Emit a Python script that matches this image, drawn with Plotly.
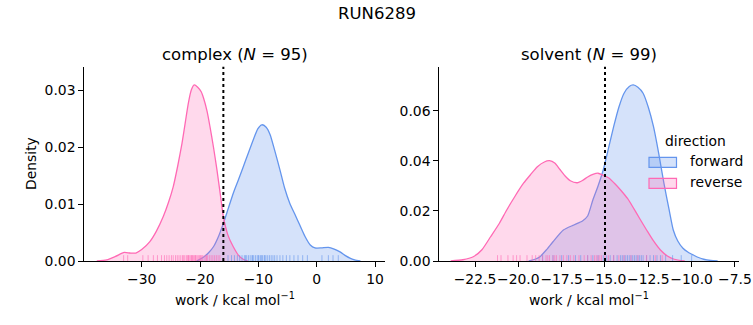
import plotly.graph_objects as go

# ---------------- data ----------------
SUPTITLE = "RUN6289"
PANELS = ["complex", "solvent"]
N_COUNTS = [95, 99]
DG_LINE = [-16.0, -15.0]
LEGEND_TITLE = "direction"
DIRECTIONS = ["forward", "reverse"]

# complex, reverse KDE
cx_rev_x = [-37.7, -36.0, -34.5, -33.0, -32.0, -31.0, -30.0, -28.6, -27.5, -26.3, -25.4, -24.6,
            -23.8, -23.1, -22.5, -22.0, -21.5, -21.0, -20.4, -19.8, -19.4, -18.8, -18.3, -17.7,
            -17.1, -16.5, -16.0, -15.2, -14.3, -13.4, -12.6, -11.8]
cx_rev_y = [0.0, 0.0002, 0.0008, 0.0015, 0.0014, 0.0014, 0.0020, 0.0034, 0.0052, 0.0078, 0.0103, 0.0130,
            0.0168, 0.0206, 0.0245, 0.0277, 0.0300, 0.0309, 0.0305, 0.0297, 0.0286, 0.0263, 0.0236, 0.0200,
            0.0160, 0.0115, 0.0078, 0.0045, 0.0025, 0.0010, 0.0003, 0.0]
# complex, forward KDE
cx_fwd_x = [-20.6, -19.5, -18.5, -17.7, -16.8, -16.0, -15.2, -14.3, -13.4, -12.6, -11.7, -10.9, -10.1,
            -9.4, -8.7, -8.0, -7.2, -6.3, -5.5, -4.6, -3.7, -2.9, -2.0, -1.1, -0.3, 0.8, 2.0, 3.0, 4.0,
            5.0, 5.7, 6.5, 7.5]
cx_fwd_y = [0.0, 0.0006, 0.0015, 0.0025, 0.0044, 0.0066, 0.0091, 0.0119, 0.0143, 0.0165, 0.0190, 0.0212,
            0.0232, 0.0239, 0.0235, 0.0222, 0.0194, 0.0160, 0.0128, 0.0101, 0.0081, 0.0063, 0.0043, 0.0028,
            0.0023, 0.0023, 0.0024, 0.0021, 0.0016, 0.0009, 0.0005, 0.0002, 0.0]
# solvent, reverse KDE
sv_rev_x = [-23.9, -23.2, -22.6, -22.1, -21.6, -21.1, -20.67, -20.2, -19.7, -19.3, -18.9, -18.5, -18.2,
            -17.9, -17.6, -17.3, -17.0, -16.6, -16.3, -16.0, -15.7, -15.4, -15.1, -14.8, -14.4, -14.1,
            -13.7, -13.4, -13.0, -12.6, -12.2, -11.8, -11.4, -11.0, -10.4]
sv_rev_y = [0.0, 0.0005, 0.0017, 0.0045, 0.0097, 0.0150, 0.0204, 0.0258, 0.0311, 0.0345, 0.0377, 0.0396,
            0.0401, 0.0392, 0.0366, 0.0340, 0.0321, 0.0313, 0.0322, 0.0336, 0.0346, 0.0351, 0.0343, 0.0333,
            0.0307, 0.0284, 0.0250, 0.0217, 0.0170, 0.0124, 0.0080, 0.0044, 0.0020, 0.0007, 0.0]
# solvent, forward KDE
sv_fwd_x = [-19.4, -19.0, -18.75, -18.4, -18.0, -17.4, -16.8, -16.3, -16.0, -15.7, -15.4, -15.1, -14.8,
            -14.5, -14.2, -13.9, -13.6, -13.37, -13.1, -12.8, -12.5, -12.2, -11.9, -11.6, -11.3, -11.06,
            -10.8, -10.5, -10.2, -9.9, -9.6, -9.3, -8.9, -8.5]
sv_fwd_y = [0.0, 0.0008, 0.0017, 0.0043, 0.0077, 0.0124, 0.0144, 0.0160, 0.0180, 0.0244, 0.0300, 0.0364,
            0.0450, 0.0537, 0.0615, 0.0671, 0.0698, 0.0704, 0.0695, 0.0671, 0.0615, 0.0537, 0.0430, 0.0311,
            0.0205, 0.0124, 0.0080, 0.0051, 0.0035, 0.0024, 0.0014, 0.0007, 0.0002, 0.0]

# rug samples (work values)
cx_rev_rug = [-33.1, -32.4, -29.8, -28.9, -28.0, -27.3, -26.6, -26.1, -25.7, -25.3, -24.9, -24.6, -24.2,
              -23.9, -23.6, -23.3, -23.0, -22.8, -22.6, -22.3, -22.1, -21.9, -21.7, -21.5, -21.3, -21.1,
              -20.9, -20.7, -20.5, -20.3, -20.1, -19.9, -19.6, -19.3, -19.0, -18.7, -18.4, -18.1, -17.8,
              -17.5, -17.2, -16.9, -16.6, -21.4, -20.8, -22.0, -19.8, -18.9]
cx_fwd_rug = [-15.2, -14.6, -14.1, -13.6, -13.2, -12.8, -12.4, -12.0, -11.7, -11.4, -11.1, -10.8, -10.5,
              -10.2, -9.9, -9.6, -9.3, -9.0, -8.7, -8.4, -8.1, -7.8, -7.5, -7.2, -6.8, -6.3, -5.8, -5.2,
              -4.6, -3.9, -3.2, -2.4, -1.6, 0.9, 2.0, 2.8, 3.7, -10.0, -9.5, -8.9, -11.0, -12.2]
sv_rev_rug = [-21.2, -21.0, -20.6, -20.3, -20.1, -19.9, -19.5, -19.2, -19.0, -18.8, -18.6, -18.4, -18.2,
              -18.0, -17.8, -17.6, -17.4, -17.2, -17.0, -16.8, -16.5, -16.2, -16.0, -15.8, -15.6, -15.4,
              -15.2, -15.0, -14.8, -14.5, -14.2, -13.9, -13.5, -13.1, -12.6, -12.1, -11.7, -18.3, -17.9,
              -15.5, -15.3]
sv_fwd_rug = [-18.6, -18.0, -17.5, -17.1, -16.7, -16.4, -16.0, -15.7, -15.4, -15.1, -14.9, -14.7, -14.5,
              -14.3, -14.1, -13.9, -13.8, -13.6, -13.5, -13.4, -13.3, -13.2, -13.1, -12.9, -12.8, -12.6,
              -12.4, -12.2, -12.0, -11.8, -11.5, -11.1, -10.6, -10.0, -13.7, -13.0, -14.0]

X_TICKS = [[-30, -20, -10, 0, 10], [-22.5, -20.0, -17.5, -15.0, -12.5, -10.0, -7.5]]
X_TICKTEXT = [["−30", "−20", "−10", "0", "10"],
              ["−22.5", "−20.0", "−17.5", "−15.0", "−12.5", "−10.0", "−7.5"]]
Y_TICKS = [[0.0, 0.01, 0.02, 0.03], [0.0, 0.02, 0.04, 0.06]]
Y_TICKTEXT = [["0.00", "0.01", "0.02", "0.03"], ["0.00", "0.02", "0.04", "0.06"]]
X_RANGES = [[-39.84, 11.71], [-24.56, -7.25]]
Y_RANGES = [[0, 0.03409], [0, 0.0777]]

# ---------------- styling ----------------
W, H = 753, 325
FONT = "DejaVu Sans"
BLUE = "#6495ED"
PINK = "#FF69B4"
BLUE_FILL = "rgba(100,149,237,0.27)"
PINK_FILL = "rgba(255,105,180,0.25)"
BLUE_RUG = "rgba(100,149,237,0.6)"
PINK_RUG = "rgba(255,105,180,0.6)"
LINE_COLORS = [BLUE, PINK]
FILL_COLORS = [BLUE_FILL, PINK_FILL]

X_DOMAINS = [[84.3 / W, 385 / W], [439.3 / W, 739.3 / W]]
Y_DOMAIN = [(H - 261) / H, (H - 66.7) / H]

fig = go.Figure()

curves = [
    (cx_fwd_x, cx_fwd_y, cx_rev_x, cx_rev_y, cx_fwd_rug, cx_rev_rug),
    (sv_fwd_x, sv_fwd_y, sv_rev_x, sv_rev_y, sv_fwd_rug, sv_rev_rug),
]

shapes = []
for i, (fx, fy, rx, ry, frug, rrug) in enumerate(curves):
    xa = "x" if i == 0 else "x2"
    ya = "y" if i == 0 else "y2"
    fig.add_trace(go.Scatter(x=fx, y=fy, mode="lines", line=dict(color=BLUE, width=1.3, shape="spline", smoothing=0.6),
                             fill="tozeroy", fillcolor=BLUE_FILL, name="forward",
                             showlegend=False, xaxis=xa, yaxis=ya, hoverinfo="skip"))
    fig.add_trace(go.Scatter(x=rx, y=ry, mode="lines", line=dict(color=PINK, width=1.3, shape="spline", smoothing=0.6),
                             fill="tozeroy", fillcolor=PINK_FILL, name="reverse",
                             showlegend=False, xaxis=xa, yaxis=ya, hoverinfo="skip"))
    for v in frug:
        shapes.append(dict(type="line", xref=xa, yref=f"{ya} domain", x0=v, x1=v, y0=0, y1=0.03,
                           line=dict(color=BLUE_RUG, width=1), layer="above"))
    for v in rrug:
        shapes.append(dict(type="line", xref=xa, yref=f"{ya} domain", x0=v, x1=v, y0=0, y1=0.03,
                           line=dict(color=PINK_RUG, width=1), layer="above"))
    shapes.append(dict(type="line", xref=xa, yref=f"{ya} domain", x0=DG_LINE[i], x1=DG_LINE[i], y0=0, y1=1,
                       line=dict(color="black", width=2, dash="dot"), layer="above"))

# manual legend (matplotlib-style patches)
annotations = [
    dict(text=LEGEND_TITLE, x=695 / W, y=(H - 141) / H, xref="paper", yref="paper", showarrow=False,
         font=dict(family=FONT, size=13.9), xanchor="center", yanchor="middle"),
]
for k, name in enumerate(DIRECTIONS):
    yc = 162.3 + k * 21
    shapes.append(dict(type="rect", xref="paper", yref="paper",
                       x0=649 / W, x1=676.5 / W, y0=(H - yc + 5) / H, y1=(H - yc - 5) / H,
                       fillcolor=FILL_COLORS[k], line=dict(color=LINE_COLORS[k], width=1.2), layer="above"))
    annotations.append(dict(text=name, x=688 / W, y=(H - yc + 1.5) / H, xref="paper", yref="paper",
                            showarrow=False, font=dict(family=FONT, size=13.9),
                            xanchor="left", yanchor="middle"))

axis_common = dict(showline=True, linecolor="black", linewidth=1, ticks="outside", ticklen=5, tickwidth=1,
                   tickcolor="black", showgrid=False, zeroline=False, automargin=False, tickangle=0,
                   tickfont=dict(family=FONT, size=13.9, color="black"))

layout = dict(
    width=W, height=H, margin=dict(l=0, r=0, t=0, b=0),
    paper_bgcolor="white", plot_bgcolor="white",
    font=dict(family=FONT, color="black"),
    shapes=shapes,
    showlegend=False,
)
for i in range(2):
    suffix = "" if i == 0 else "2"
    layout[f"xaxis{suffix}"] = dict(axis_common, domain=X_DOMAINS[i], range=X_RANGES[i],
                                    tickvals=X_TICKS[i], ticktext=X_TICKTEXT[i],
                                    anchor="y" + suffix)
    layout[f"yaxis{suffix}"] = dict(axis_common, domain=Y_DOMAIN, range=Y_RANGES[i],
                                    tickvals=Y_TICKS[i], ticktext=Y_TICKTEXT[i],
                                    anchor="x" + suffix)
fig.update_layout(**layout)

annotations += [
    dict(text=SUPTITLE, x=377 / W, y=(H - 13) / H, xref="paper", yref="paper", showarrow=False,
         font=dict(family=FONT, size=16.5), xanchor="center", yanchor="middle"),
    dict(text="Density", x=31 / W, y=(H - 164) / H, xref="paper", yref="paper", showarrow=False,
         textangle=-90, font=dict(family=FONT, size=13.9), xanchor="center", yanchor="middle"),
]
for i in range(2):
    cx = (X_DOMAINS[i][0] + X_DOMAINS[i][1]) / 2
    annotations.append(dict(text=f"{PANELS[i]} (<i>N</i> = {N_COUNTS[i]})", x=cx, y=(H - 54) / H,
                            xref="paper", yref="paper", showarrow=False,
                            font=dict(family=FONT, size=16.5), xanchor="center", yanchor="middle"))
    annotations.append(dict(text="work / kcal mol<sup>−1</sup>", x=cx, y=(H - 299) / H,
                            xref="paper", yref="paper", showarrow=False,
                            font=dict(family=FONT, size=13.9), xanchor="center", yanchor="middle"))
fig.update_layout(annotations=annotations)

fig.write_html("out.html")
